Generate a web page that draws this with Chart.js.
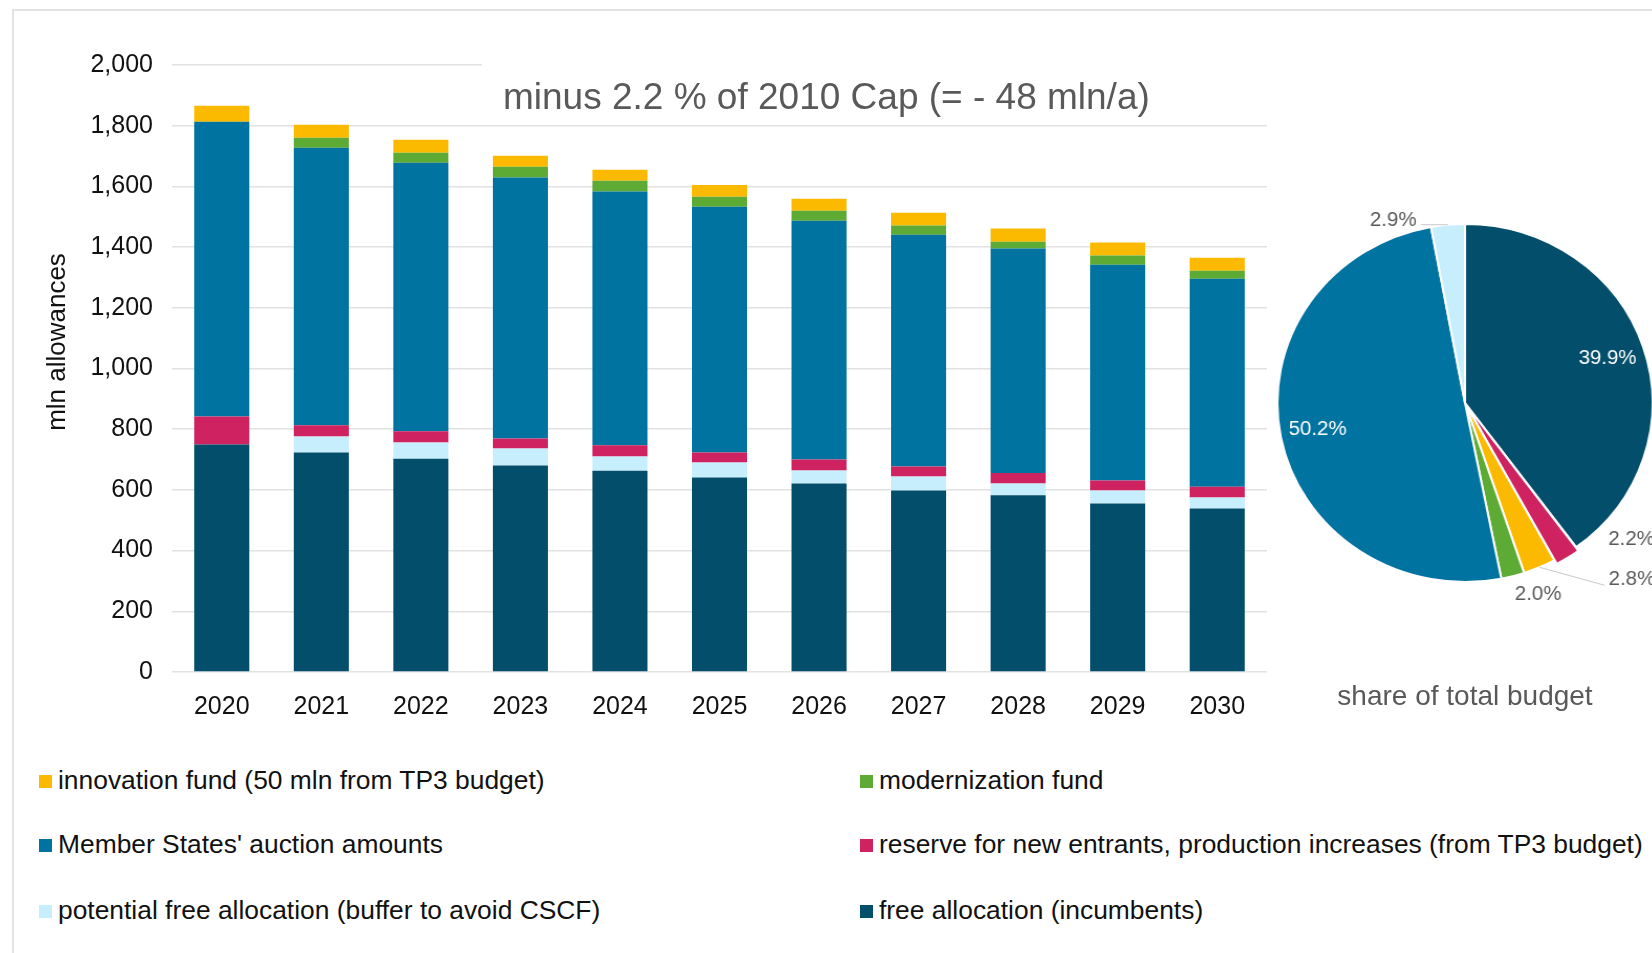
<!DOCTYPE html>
<html>
<head>
<meta charset="utf-8">
<script src="https://cdn.jsdelivr.net/npm/chart.js@4.4.1/dist/chart.umd.min.js"></script>
<style>
  html, body { margin: 0; padding: 0; background: #fff; overflow: hidden; }
  body { width: 1652px; height: 953px; position: relative; font-family: "Liberation Sans", Arial, sans-serif; }
  #frame { position: absolute; left: 12px; top: 9px; width: 1700px; height: 1000px;
           border-left: 2px solid #e3e3e3; border-top: 2px solid #e3e3e3; }
  #bars { position: absolute; left: 0; top: 0; }
  #pie { position: absolute; left: 1235px; top: 173px; transform: scaleX(1.048); transform-origin: 50% 50%; }
  #pieTitle { position: absolute; left: 1265px; width: 400px; top: 680px; text-align: center;
              font-size: 28px; color: #595959; }
  .item { position: absolute; font-size: 26.4px; color: #111; white-space: nowrap; line-height: 30px; }
  .item .box { display: inline-block; width: 13px; height: 13px; margin-right: 6px; vertical-align: 1px; }
</style>
</head>
<body>
<div id="frame"></div>
<canvas id="bars" width="1290" height="740"></canvas>
<canvas id="pie" width="460" height="460"></canvas>
<div id="pieTitle">share of total budget</div>
<div id="legend"></div>
<script>
// allowances per year, mln (bottom to top)
var years = ["2020", "2021", "2022", "2023", "2024", "2025", "2026", "2027", "2028", "2029", "2030"];
var freeAllocation = [750, 723, 703, 680, 663, 641, 621, 598, 582, 555, 539];
var potentialFree = [0, 53, 53, 56, 47, 49, 43, 46, 39, 43, 36];
var reserveNew = [92, 37, 37, 33, 37, 33, 36, 33, 35, 33, 35];
var auctions = [971, 914, 885, 860, 836, 810, 787, 764, 739, 711, 686];
var modernization = [0, 33, 33, 36, 36, 33, 33, 30, 23, 30, 26];
var innovation = [53, 43, 43, 36, 36, 39, 39, 42, 43, 43, 43];
var yTicks = [0, 200, 400, 600, 800, 1000, 1200, 1400, 1600, 1800, 2000];

// pie: share of total budget (clockwise from 12 o'clock)
var shareNames = ["free allocation", "reserve", "innovation fund", "modernization fund", "auctions", "potential free allocation"];
var shareValues = [39.9, 2.2, 2.8, 2.0, 50.2, 2.9];

var C = {
  dark: "#034e6b", light: "#c6eefc", red: "#cf2261",
  blue: "#0073a1", green: "#5dab35", yellow: "#fbba00"
};
var FONT = '"Liberation Sans", Arial, sans-serif';

var barDecor = {
  id: "barDecor",
  beforeDatasetsDraw: function (c) {
    var ctx = c.ctx, a = c.chartArea;
    ctx.save();
    ctx.fillStyle = "#fff";
    ctx.fillRect(a.left + 310, a.top - 14, a.right - a.left - 306, 66);
    ctx.fillStyle = "#595959";
    ctx.font = "37px " + FONT;
    ctx.textBaseline = "alphabetic";
    ctx.fillText("minus 2.2 % of 2010 Cap (= - 48 mln/a)", a.left + 331, a.top + 44);
    ctx.restore();
  },
  afterDraw: function (c) {
    var ctx = c.ctx;
    ctx.save();
    ctx.translate(58, 342);
    ctx.rotate(-Math.PI / 2);
    ctx.fillStyle = "#111";
    ctx.font = "26px " + FONT;
    ctx.textAlign = "center";
    ctx.textBaseline = "middle";
    ctx.fillText("mln allowances", 0, 0);
    ctx.restore();
  }
};

function ds(label, data, color) {
  return { label: label, data: data, backgroundColor: color, borderWidth: 0,
           categoryPercentage: 1, barPercentage: 0.553 };
}

var barChart = new Chart(document.getElementById("bars"), {
  type: "bar",
  data: {
    labels: years,
    datasets: [
      ds("free allocation (incumbents)", freeAllocation, C.dark),
      ds("potential free allocation (buffer to avoid CSCF)", potentialFree, C.light),
      ds("reserve for new entrants, production increases (from TP3 budget)", reserveNew, C.red),
      ds("Member States' auction amounts", auctions, C.blue),
      ds("modernization fund", modernization, C.green),
      ds("innovation fund (50 mln from TP3 budget)", innovation, C.yellow)
    ]
  },
  options: {
    responsive: false,
    animation: false,
    devicePixelRatio: 1,
    locale: "en-US",
    layout: { padding: { left: 0, top: 65, right: 23, bottom: 0 } },
    plugins: { legend: { display: false }, tooltip: { enabled: false } },
    scales: {
      x: {
        stacked: true,
        grid: { display: false },
        border: { display: false },
        ticks: { color: "#111", font: { family: FONT, size: 25 }, padding: 12 },
        afterFit: function (s) { s.height = 68; }
      },
      y: {
        stacked: true,
        min: 0, max: 2000,
        afterBuildTicks: function (s) { s.ticks = yTicks.map(function (v) { return { value: v }; }); },
        grid: { color: "#e2e2e2", lineWidth: 1.5, drawTicks: false },
        border: { display: false },
        ticks: { color: "#111", font: { family: FONT, size: 25 }, padding: 19,
                 callback: function (v) { return v.toLocaleString("en-US"); } },
        afterFit: function (s) { s.width = 172; }
      }
    }
  },
  plugins: [barDecor]
});

// legend, two columns, top of stack first
var legend = document.getElementById("legend");
var cols = [39, 860], rows = [780, 844, 910];
barChart.data.datasets.slice().reverse().forEach(function (d, i) {
  var el = document.createElement("div");
  el.className = "item";
  el.style.left = cols[i % 2] + "px";
  el.style.top = (rows[Math.floor(i / 2)] - 15) + "px";
  el.innerHTML = '<span class="box" style="background:' + d.backgroundColor + '"></span>';
  el.appendChild(document.createTextNode(d.label));
  legend.appendChild(el);
});

// label placement for the thin slices (offset from the slice edge, px)
var outsideLabel = {
  1: { dx: 36, dy: -22, align: "left", line: false },
  2: { dx: 66, dy: 12, align: "left", line: true },
  3: { dx: 2, dy: 19, align: "left", line: false },
  5: { dx: -30, dy: -4, align: "right", line: true }
};

var pieLabels = {
  id: "pieLabels",
  afterDatasetsDraw: function (c) {
    var ctx = c.ctx;
    var meta = c.getDatasetMeta(0);
    var offs = c.data.datasets[0].offset;
    ctx.save();
    ctx.font = "19.5px " + FONT;
    ctx.textBaseline = "middle";
    meta.data.forEach(function (arc, i) {
      var p = arc.getProps(["x", "y", "startAngle", "endAngle", "outerRadius"], true);
      var mid = (p.startAngle + p.endAngle) / 2;
      var txt = shareValues[i].toFixed(1) + "%";
      if (!outsideLabel[i]) {
        var r = p.outerRadius * 0.80;
        ctx.fillStyle = "#fff";
        ctx.textAlign = "center";
        ctx.fillText(txt, p.x + Math.cos(mid) * r, p.y + Math.sin(mid) * r);
        return;
      }
      var L = outsideLabel[i];
      var re = p.outerRadius + (offs[i] || 0);
      var ax = p.x + Math.cos(mid) * re, ay = p.y + Math.sin(mid) * re;
      var tx = ax + L.dx, ty = ay + L.dy;
      if (L.line) {
        ctx.strokeStyle = "#c8c8c8";
        ctx.lineWidth = 1;
        ctx.beginPath();
        ctx.moveTo(ax, ay);
        ctx.lineTo(tx + (L.align === "left" ? -4 : 4), ty + (L.align === "left" ? 6 : 4));
        ctx.stroke();
      }
      ctx.fillStyle = "#595959";
      ctx.textAlign = L.align;
      ctx.fillText(txt, tx, ty);
    });
    ctx.restore();
  }
};

new Chart(document.getElementById("pie"), {
  type: "pie",
  data: {
    labels: shareNames,
    datasets: [{
      data: shareValues,
      backgroundColor: [C.dark, C.red, C.yellow, C.green, C.blue, C.light],
      borderColor: "#fff",
      borderWidth: 2,
      offset: [0, 9, 0, 0, 0, 0]
    }]
  },
  options: {
    responsive: false,
    animation: false,
    devicePixelRatio: 1,
    radius: 179,
    layout: { padding: 0 },
    plugins: { legend: { display: false }, tooltip: { enabled: false } }
  },
  plugins: [pieLabels]
});
</script>
</body>
</html>
